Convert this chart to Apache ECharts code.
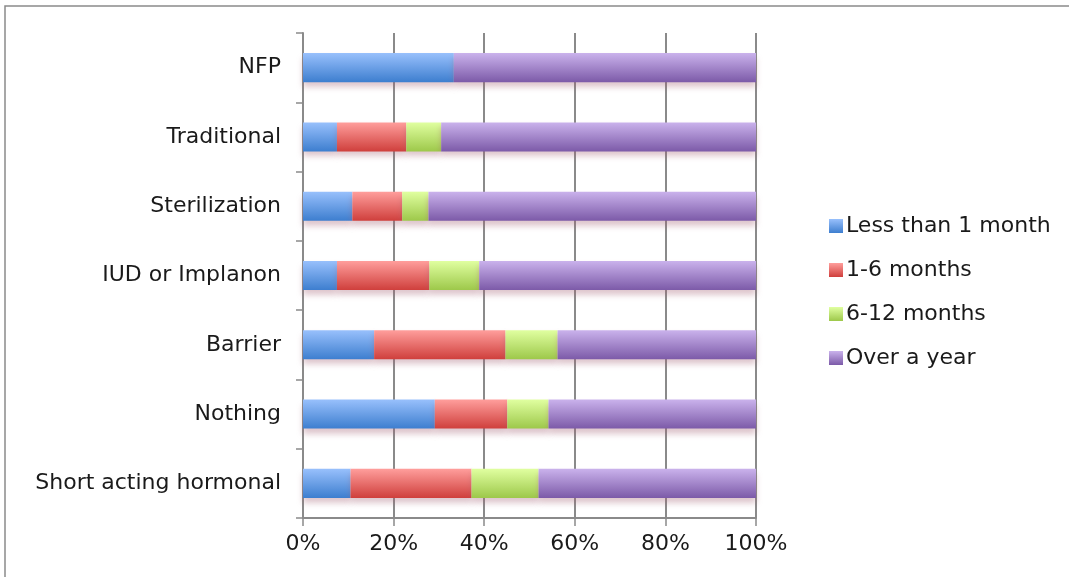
<!DOCTYPE html>
<html>
<head>
<meta charset="utf-8">
<script src="https://cdn.jsdelivr.net/npm/echarts@6/dist/echarts.min.js"></script>
<style>
  html, body { margin: 0; padding: 0; background: #fff; }
  #chart { width: 1069px; height: 577px; }
</style>
</head>
<body>
<div id="chart"></div>
<script>
// 分类（自下而上）
const categories = ['Short acting hormonal', 'Nothing', 'Barrier', 'IUD or Implanon', 'Sterilization', 'Traditional', 'NFP']

// 各系列占比 (%)
const lessThanMonth = [10.5, 29.1, 15.7, 7.5, 10.9, 7.5, 33.3]
const oneToSix = [26.7, 16.0, 29.0, 20.4, 11.0, 15.3, 0]
const sixToTwelve = [14.8, 9.1, 11.5, 11.0, 5.8, 7.7, 0]
const overYear = [48.0, 45.8, 43.8, 61.1, 72.3, 69.5, 66.7]

const xTicks = ['0%', '20%', '40%', '60%', '80%', '100%']

const font = '"DejaVu Sans", sans-serif'

const grad = (top, bottom) => ({
    type: 'linear',
    x: 0, y: 0, x2: 0, y2: 1,
    colorStops: [
        { offset: 0, color: top },
        { offset: 1, color: bottom }
    ]
})

const makeSeries = (name, data, top, bottom) => ({
    name: name,
    type: 'bar',
    stack: 'total',
    barCategoryGap: '58%',
    data: data,
    itemStyle: {
        color: grad(top, bottom),
        shadowColor: 'rgba(160, 90, 110, 0.35)',
        shadowBlur: 6,
        shadowOffsetY: 5
    }
})

const myChart = echarts.init(document.getElementById('chart'))
myChart.setOption({
    animation: false,
    graphic: [
        {
            type: 'rect',
            shape: { x: 5, y: 6, width: 1100, height: 620 },
            style: { fill: 'none', stroke: '#8a8a8a', lineWidth: 1.5 },
            silent: true
        }
    ],
    legend: {
        orient: 'vertical',
        left: 824,
        top: 210,
        itemWidth: 14,
        itemHeight: 14,
        itemGap: 22,
        icon: 'rect',
        textStyle: { fontFamily: font, fontSize: 22, color: '#1a1a1a', padding: [0, 0, 0, -2] },
        data: ['Less than 1 month', '1-6 months', '6-12 months', 'Over a year']
    },
    grid: {
        left: 303,
        right: 313,
        top: 33,
        bottom: 59
    },
    xAxis: {
        type: 'value',
        min: 0,
        max: 100,
        interval: 20,
        axisLine: { show: true, lineStyle: { color: '#8a8a8a', width: 2 } },
        axisTick: { show: true, length: 8, lineStyle: { color: '#8a8a8a', width: 1.5 } },
        splitLine: { show: true, lineStyle: { color: '#8a8a8a', width: 2 } },
        axisLabel: {
            margin: 15,
            fontFamily: font,
            fontSize: 22,
            color: '#1a1a1a',
            formatter: (v) => xTicks[v / 20]
        }
    },
    yAxis: {
        type: 'category',
        data: categories,
        axisLine: { show: true, lineStyle: { color: '#8a8a8a', width: 2 } },
        axisTick: { show: true, length: 7, lineStyle: { color: '#8a8a8a', width: 1.5 } },
        axisLabel: {
            margin: 22,
            fontFamily: font,
            fontSize: 22,
            color: '#1a1a1a'
        }
    },
    series: [
        makeSeries('Less than 1 month', lessThanMonth, '#98C0FC', '#3D7ECF'),
        makeSeries('1-6 months', oneToSix, '#FF9E9C', '#CF3F3C'),
        makeSeries('6-12 months', sixToTwelve, '#E0FFA0', '#9DC84A'),
        makeSeries('Over a year', overYear, '#CAB2EC', '#7C5AA8')
    ]
})
</script>
</body>
</html>
